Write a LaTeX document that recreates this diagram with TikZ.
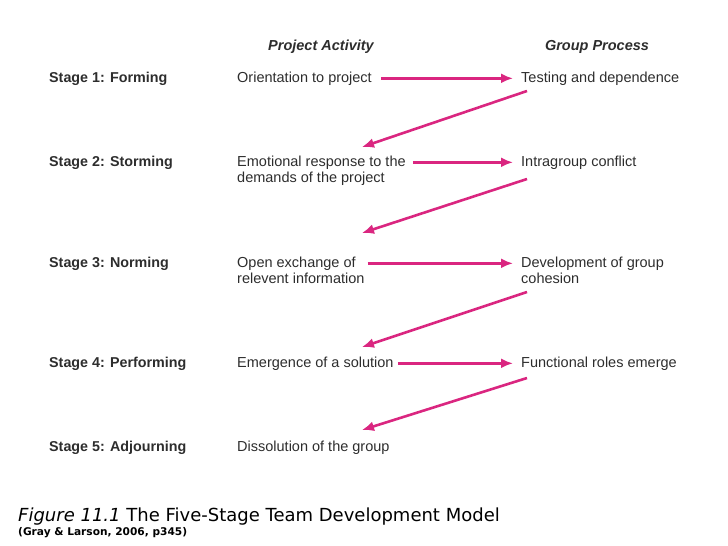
\documentclass[tikz,border=0pt]{standalone}
\usepackage{fontspec}
\setmainfont{Liberation Sans}
\newfontfamily\capfont{DejaVu Sans}
\usetikzlibrary{arrows.meta,calc}
\definecolor{pinkarr}{RGB}{218,38,128}
\definecolor{txt}{RGB}{45,45,45}
\begin{document}
\begin{tikzpicture}[x=1pt,y=-1pt,
 lbl/.style={anchor=base west,inner sep=0pt,font=\fontsize{14.3}{16}\selectfont\bfseries,text=txt},
 tnode/.style={anchor=base west,inner sep=0pt,align=left,font=\fontsize{14.5}{16}\selectfont,text=txt},
 head/.style={anchor=base,inner sep=0pt,font=\fontsize{14.5}{16}\selectfont\bfseries\itshape,text=txt},
 arr/.style={draw=pinkarr,line width=2.6pt,-{Latex[length=12pt,width=10pt]}}]
\useasboundingbox (0,0) rectangle (728,546);
% headers
\node[head] (hA) at (321,50) {Project Activity};
\node[head] (hG) at (597,50) {Group Process};
% stage labels
\node[lbl] (s1) at (49,82) {Stage 1: Forming};
\node[lbl] (s2) at (49,166) {Stage 2: Storming};
\node[lbl] (s3) at (49,267) {Stage 3: Norming};
\node[lbl] (s4) at (49,367) {Stage 4: Performing};
\node[lbl] (s5) at (49,451) {Stage 5: Adjourning};
% activities (multi-line nodes sit on the baseline of their last line)
\node[tnode] (a1) at (237,82) {Orientation to project};
\node[tnode] (a2) at (237,182) {Emotional response to the\\demands of the project};
\node[tnode] (a3) at (237,283) {Open exchange of\\relevent information};
\node[tnode] (a4) at (237,367) {Emergence of a solution};
\node[tnode] (a5) at (237,451) {Dissolution of the group};
% group process
\node[tnode] (g1) at (521,82) {Testing and dependence};
\node[tnode] (g2) at (521,166) {Intragroup conflict};
\node[tnode] (g3) at (521,283) {Development of group\\cohesion};
\node[tnode] (g4) at (521,367) {Functional roles emerge};
% horizontal arrows
\draw[arr] ([xshift=9pt]a1.east |- s1) -- ([xshift=-8pt]g1.west |- s1);
\draw[arr] ([xshift=7pt]a2.east |- s2) -- ([xshift=-8pt]g2.west |- s2);
\draw[arr] ([xshift=3pt]a3.east |- s3) -- ([xshift=-8pt]g3.west |- s3);
\draw[arr] ([xshift=4pt]a4.east |- s4) -- ([xshift=-8pt]g4.west |- s4);
% diagonal arrows
\coordinate (d1s) at (527,91);  \coordinate (d1e) at (362,147);
\coordinate (d2s) at (527,179); \coordinate (d2e) at (362,233);
\coordinate (d3s) at (527,292); \coordinate (d3e) at (362,347);
\coordinate (d4s) at (527,378); \coordinate (d4e) at (362,430);
\draw[arr] (d1s) -- (d1e);
\draw[arr] (d2s) -- (d2e);
\draw[arr] (d3s) -- (d3e);
\draw[arr] (d4s) -- (d4e);
% caption
\node[anchor=base west,inner sep=0pt,font=\capfont\fontsize{18}{21}\selectfont] (cap) at (18,521) {\textit{Figure 11.1} The Five-Stage Team Development Model};
\node[anchor=base west,inner sep=0pt,font=\capfont\fontsize{10.6}{13}\selectfont\bfseries] (src) at (18,535) {(Gray \& Larson, 2006, p345)};
\end{tikzpicture}
\end{document}
